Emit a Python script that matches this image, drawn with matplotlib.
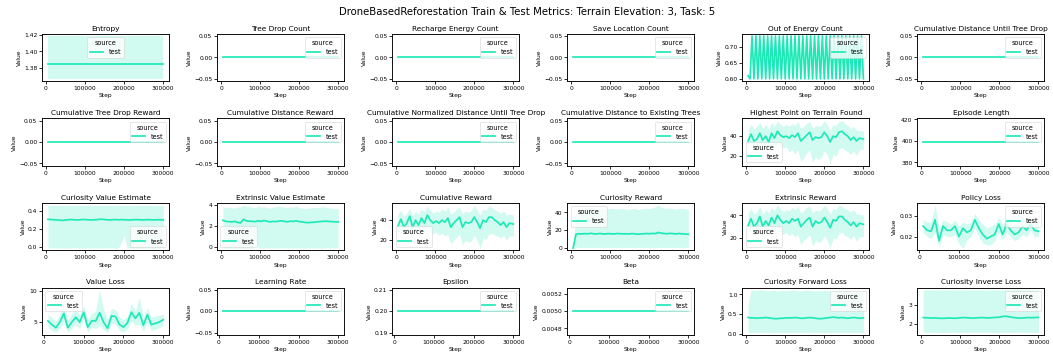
import matplotlib.pyplot as plt
from matplotlib.ticker import MaxNLocator

# figure is drawn at a large size, then saved at low dpi
DPI = 41
COLOR = '#1de9b6'

plt.rcParams['xtick.labelsize'] = 10.5
plt.rcParams['ytick.labelsize'] = 10.5
plt.rcParams['axes.labelsize'] = 10.5
plt.rcParams['axes.linewidth'] = 1.6
plt.rcParams['xtick.major.width'] = 1.4
plt.rcParams['ytick.major.width'] = 1.4
plt.rcParams['xtick.major.size'] = 5
plt.rcParams['ytick.major.size'] = 5
plt.rcParams['legend.fontsize'] = 11.5
plt.rcParams['legend.title_fontsize'] = 11.5

suptitle = 'DroneBasedReforestation Train & Test Metrics: Terrain Elevation: 3, Task: 5'

# ---------------- steps ----------------
steps = [5000, 12500, 20000, 27500, 35000, 42500, 50000, 57500, 65000, 72500,
         80000, 87500, 95000, 102500, 110000, 117500, 125000, 132500, 140000, 147500,
         155000, 162500, 170000, 177500, 185000, 192500, 200000, 207500, 215000, 222500,
         230000, 237500, 245000, 252500, 260000, 267500, 275000, 282500, 290000, 300000]
loss_steps = [10000, 20000, 30000, 40000, 50000, 60000, 70000, 80000, 90000, 100000,
              110000, 120000, 130000, 140000, 150000, 160000, 170000, 180000, 190000, 200000,
              210000, 220000, 230000, 240000, 250000, 260000, 270000, 280000, 290000, 300000]
energy_steps = [5000, 10000, 15000, 20000, 25000, 30000, 35000, 40000, 45000, 50000,
                55000, 60000, 65000, 70000, 75000, 80000, 85000, 90000, 95000, 100000,
                105000, 110000, 115000, 120000, 125000, 130000, 135000, 140000, 145000, 150000,
                155000, 160000, 165000, 170000, 175000, 180000, 185000, 190000, 195000, 200000,
                205000, 210000, 215000, 220000, 225000, 230000, 235000, 240000, 245000, 250000,
                255000, 260000, 265000, 270000, 275000, 280000, 285000, 290000, 295000, 300000]

# ---------------- constant metrics ----------------
entropy_value = 1.3845
entropy_lo = 1.3667
entropy_hi = 1.4188
tree_drop_count = 0.0
recharge_energy_count = 0.0
save_location_count = 0.0
cum_dist_until_drop = 0.0
cum_tree_drop_reward = 0.0
cum_distance_reward = 0.0
cum_norm_dist_until_drop = 0.0
cum_dist_existing_trees = 0.0
episode_length = 399.0
learning_rate = 0.0
epsilon = 0.2
beta = 0.005

# ---------------- varying metrics ----------------
out_of_energy = [0.610, 0.600, 0.733, 0.600, 0.733, 0.600, 0.733, 0.600, 0.733, 0.600,
                 0.733, 0.600, 0.733, 0.600, 0.733, 0.600, 0.733, 0.600, 0.733, 0.600,
                 0.733, 0.600, 0.733, 0.600, 0.733, 0.600, 0.733, 0.600, 0.733, 0.600,
                 0.733, 0.600, 0.733, 0.600, 0.733, 0.600, 0.733, 0.600, 0.733, 0.600,
                 0.733, 0.600, 0.733, 0.600, 0.733, 0.600, 0.733, 0.600, 0.733, 0.600,
                 0.733, 0.600, 0.733, 0.600, 0.733, 0.600, 0.733, 0.600, 0.733, 0.600]

highest_mean = [35, 42, 35, 37, 43, 36, 40, 34, 43, 38, 45, 41, 39, 40, 38, 41, 39, 43, 35, 38,
                41, 44, 36, 39, 38, 39, 44, 40, 34, 40, 39, 44, 45, 42, 40, 36, 39, 35, 38, 37]
highest_hi = [47, 52, 47, 50, 54, 48, 52, 47, 54, 50, 56, 52, 50, 52, 50, 53, 51, 55, 48, 50,
              53, 55, 48, 51, 50, 51, 56, 52, 46, 52, 51, 55, 56, 53, 51, 48, 50, 46, 46, 45]
highest_lo = [26, 32, 25, 27, 32, 25, 29, 23, 31, 27, 34, 30, 28, 29, 24, 26, 22, 26, 14, 18,
              23, 26, 13, 19, 16, 18, 25, 21, 12, 22, 20, 27, 28, 26, 24, 21, 25, 20, 26, 27]

cumrew_mean = [34, 41, 33, 37, 44, 33, 40, 35, 42, 37, 45, 40, 37, 39, 37, 40, 38, 42, 33, 37,
               40, 43, 33, 38, 37, 38, 43, 38, 32, 40, 38, 43, 43, 40, 38, 35, 38, 33, 37, 36]
cumrew_hi = [46, 50, 44, 47, 52, 44, 49, 46, 51, 48, 54, 50, 47, 49, 48, 51, 49, 53, 46, 48,
             51, 53, 46, 49, 48, 49, 55, 50, 45, 51, 50, 54, 53, 50, 49, 47, 49, 45, 46, 45]
cumrew_lo = [26, 31, 24, 27, 33, 24, 30, 26, 31, 27, 33, 29, 26, 28, 25, 27, 24, 26, 16, 20,
             23, 26, 15, 20, 18, 19, 25, 20, 12, 22, 21, 26, 27, 25, 24, 22, 25, 20, 24, 24]

extrew_mean = [31, 37, 30, 33, 39, 30, 35, 31, 38, 33, 40, 36, 33, 35, 33, 37, 35, 37, 30, 33,
               36, 38, 30, 35, 33, 34, 38, 34, 29, 36, 35, 39, 39, 36, 34, 31, 34, 30, 33, 32]
extrew_hi = [42, 46, 41, 43, 48, 41, 45, 42, 47, 44, 49, 46, 43, 45, 44, 47, 45, 48, 42, 44,
             47, 48, 42, 45, 44, 45, 49, 46, 41, 46, 45, 49, 48, 46, 45, 43, 45, 41, 41, 40]
extrew_lo = [23, 28, 21, 24, 30, 21, 27, 23, 28, 24, 30, 26, 23, 25, 22, 24, 21, 23, 14, 18,
             20, 23, 13, 18, 16, 17, 22, 18, 11, 20, 19, 24, 25, 22, 21, 19, 22, 17, 21, 21]

cur_value_mean = [0.305, 0.302, 0.300, 0.298, 0.296, 0.292, 0.297, 0.300, 0.302, 0.299,
                  0.297, 0.300, 0.303, 0.301, 0.299, 0.298, 0.300, 0.302, 0.306, 0.303,
                  0.300, 0.297, 0.300, 0.302, 0.299, 0.301, 0.300, 0.298, 0.297, 0.300,
                  0.302, 0.300, 0.298, 0.299, 0.301, 0.300, 0.298, 0.299, 0.300, 0.299]
cur_value_hi = [0.462, 0.460, 0.461, 0.459, 0.458, 0.460, 0.462, 0.461, 0.459, 0.460,
                0.461, 0.460, 0.458, 0.459, 0.461, 0.462, 0.460, 0.459, 0.460, 0.461,
                0.460, 0.458, 0.459, 0.460, 0.461, 0.460, 0.459, 0.458, 0.460, 0.461,
                0.460, 0.459, 0.458, 0.460, 0.461, 0.459, 0.458, 0.457, 0.458, 0.457]
cur_value_lo = [-0.012, -0.014, -0.013, -0.015, -0.014, -0.013, -0.012, -0.014, -0.015, -0.013,
                -0.012, -0.014, -0.013, -0.015, -0.014, -0.013, -0.012, -0.014, -0.015, -0.013,
                -0.012, -0.014, -0.013, -0.015, -0.014, 0.040, 0.125, -0.010, -0.013, -0.014,
                -0.012, -0.013, -0.015, -0.014, -0.013, -0.012, -0.014, -0.013, -0.012, -0.013]

ext_value_mean = [2.50, 2.40, 2.38, 2.35, 2.40, 2.30, 2.25, 2.60, 2.45, 2.42,
                  2.40, 2.38, 2.45, 2.40, 2.48, 2.42, 2.35, 2.40, 2.38, 2.42,
                  2.45, 2.40, 2.36, 2.42, 2.40, 2.45, 2.38, 2.35, 2.30, 2.28,
                  2.30, 2.32, 2.35, 2.38, 2.40, 2.42, 2.40, 2.38, 2.36, 2.35]
ext_value_hi = [3.80, 3.70, 3.75, 3.70, 3.65, 3.75, 3.80, 3.95, 3.85, 3.80,
                3.75, 3.70, 3.85, 3.75, 3.80, 3.70, 3.65, 3.75, 3.80, 3.85,
                3.80, 3.75, 3.70, 3.80, 3.75, 3.85, 3.70, 3.65, 3.60, 3.65,
                3.70, 3.75, 3.70, 3.75, 3.80, 3.75, 3.70, 3.65, 3.60, 3.60]
ext_value_lo = [-0.12, -0.14, -0.13, -0.15, -0.14, -0.13, -0.12, -0.14, -0.15, -0.13,
                -0.12, 0.75, -0.10, -0.15, -0.14, -0.13, -0.12, -0.14, -0.15, -0.13,
                -0.12, -0.14, -0.13, -0.15, -0.14, -0.13, -0.12, -0.14, -0.15, -0.13,
                -0.12, -0.14, -0.13, -0.15, -0.14, -0.13, -0.12, -0.14, -0.13, -0.12]

cur_reward_mean = [0.0, 15.5, 16.0, 15.8, 16.2, 15.9, 16.5, 16.0, 15.8, 16.3,
                   16.0, 15.7, 16.2, 16.0, 15.8, 16.3, 16.1, 15.9, 16.0, 15.7,
                   16.2, 16.0, 15.5, 15.8, 16.0, 16.3, 16.0, 16.4, 16.2, 17.5,
                   16.8, 16.3, 16.0, 16.5, 16.2, 15.9, 16.3, 16.0, 15.8, 15.5]
cur_reward_hi = [0.0, 43.0, 44.0, 43.5, 44.0, 44.5, 44.0, 43.5, 44.0, 44.5,
                 44.0, 43.0, 44.0, 44.5, 44.0, 43.5, 44.0, 44.0, 43.5, 43.0,
                 44.0, 44.5, 43.0, 43.5, 44.0, 44.5, 44.0, 45.0, 46.0, 48.0,
                 46.0, 45.0, 44.5, 45.0, 44.0, 43.5, 44.0, 44.5, 44.0, 43.0]
cur_reward_lo = [0.0, 0.8, 0.8, 0.8, 0.8, 0.8, 0.8, 0.8, 0.8, 0.8,
                 0.8, 0.8, 0.8, 0.8, 0.8, 0.8, 0.8, 0.8, 0.8, 0.8,
                 0.8, 0.8, 0.8, 0.8, 0.8, 0.8, 0.8, 0.8, 0.8, 0.8,
                 0.8, 0.8, 0.8, 0.8, 0.8, 0.8, 0.8, 0.8, 0.8, 0.8]

policy_mean = [0.025, 0.023, 0.0225, 0.028, 0.018, 0.025, 0.023, 0.023, 0.025, 0.020,
               0.024, 0.022, 0.023, 0.028, 0.024, 0.021, 0.019, 0.020, 0.021, 0.026,
               0.021, 0.026, 0.023, 0.021, 0.022, 0.025, 0.023, 0.026, 0.023, 0.0225]
policy_hi = [0.028, 0.027, 0.027, 0.035, 0.024, 0.028, 0.027, 0.026, 0.028, 0.025,
             0.027, 0.026, 0.027, 0.031, 0.028, 0.026, 0.024, 0.025, 0.026, 0.029,
             0.026, 0.029, 0.027, 0.025, 0.026, 0.029, 0.027, 0.029, 0.027, 0.026]
policy_lo = [0.022, 0.020, 0.019, 0.022, 0.015, 0.021, 0.020, 0.020, 0.021, 0.0165,
             0.0145, 0.0185, 0.020, 0.024, 0.020, 0.017, 0.016, 0.016, 0.018, 0.022,
             0.018, 0.022, 0.020, 0.018, 0.019, 0.021, 0.020, 0.023, 0.020, 0.020]

value_loss_mean = [5.2, 4.6, 4.1, 5.0, 6.4, 4.1, 5.0, 5.8, 5.0, 6.6,
                   4.2, 5.2, 5.2, 6.5, 5.0, 4.0, 6.0, 5.9, 4.6, 4.2,
                   4.9, 6.6, 5.6, 6.5, 4.5, 6.2, 4.6, 4.8, 5.0, 5.4]
value_loss_hi = [6.3, 5.7, 5.2, 6.3, 7.5, 5.3, 6.3, 7.0, 6.2, 7.6,
                 5.4, 6.4, 6.8, 10.2, 7.0, 5.5, 7.2, 7.0, 5.8, 5.4,
                 6.0, 8.0, 6.8, 9.0, 5.8, 7.3, 5.8, 6.0, 6.1, 6.3]
value_loss_lo = [4.2, 3.7, 3.4, 4.0, 5.2, 3.4, 4.0, 4.6, 4.0, 5.5,
                 3.4, 4.2, 4.0, 4.5, 3.8, 3.3, 4.8, 4.7, 3.6, 3.4,
                 3.9, 5.2, 4.5, 4.6, 3.6, 5.0, 3.7, 3.9, 4.1, 4.5]

fwd_loss_mean = [0.41, 0.40, 0.40, 0.39, 0.40, 0.40, 0.41, 0.40, 0.39, 0.38,
                 0.38, 0.39, 0.39, 0.40, 0.40, 0.40, 0.41, 0.40, 0.39, 0.39,
                 0.40, 0.41, 0.40, 0.39, 0.38, 0.38, 0.39, 0.40, 0.41, 0.42,
                 0.41, 0.40, 0.41, 0.40, 0.39, 0.40, 0.41, 0.40, 0.39, 0.40]
fwd_loss_hi = [0.75, 1.12, 1.11, 1.10, 1.12, 1.11, 1.10, 1.09, 1.10, 1.11,
               1.08, 1.10, 1.11, 1.09, 1.10, 1.12, 1.11, 1.10, 1.09, 1.10,
               1.11, 1.10, 1.09, 1.08, 1.10, 1.09, 1.11, 1.10, 1.09, 1.08,
               1.10, 1.09, 1.08, 1.09, 1.10, 1.09, 1.08, 1.09, 1.08, 1.07]
fwd_loss_lo = [0.03, 0.02, 0.02, 0.03, 0.02, 0.02, 0.03, 0.02, 0.02, 0.02,
               0.03, 0.02, 0.02, 0.03, 0.02, 0.02, 0.02, 0.03, 0.02, 0.02,
               0.03, 0.02, 0.02, 0.02, 0.03, 0.02, 0.02, 0.03, 0.02, 0.02,
               0.02, 0.03, 0.02, 0.02, 0.03, 0.02, 0.02, 0.02, 0.03, 0.02]

inv_loss_mean = [2.33, 2.32, 2.31, 2.30, 2.31, 2.30, 2.29, 2.29, 2.30, 2.31,
                 2.30, 2.29, 2.31, 2.32, 2.33, 2.32, 2.31, 2.30, 2.31, 2.32,
                 2.33, 2.32, 2.31, 2.32, 2.33, 2.34, 2.35, 2.38, 2.40, 2.38,
                 2.35, 2.33, 2.31, 2.30, 2.31, 2.32, 2.33, 2.32, 2.33, 2.34]
inv_loss_hi = [3.75, 3.76, 3.74, 3.75, 3.76, 3.75, 3.74, 3.75, 3.76, 3.75,
               3.74, 3.75, 3.76, 3.75, 3.74, 3.75, 3.76, 3.75, 3.74, 3.75,
               3.76, 3.75, 3.74, 3.75, 3.76, 3.75, 3.74, 3.75, 3.76, 3.75,
               3.74, 3.75, 3.76, 3.75, 3.74, 3.75, 3.76, 3.75, 3.74, 3.75]
inv_loss_lo = [1.58, 1.57, 1.56, 1.57, 1.58, 1.57, 1.56, 1.55, 1.56, 1.57,
               1.58, 1.57, 1.56, 1.57, 1.58, 1.57, 1.56, 1.57, 1.58, 1.57,
               1.56, 1.57, 1.58, 1.57, 1.56, 1.55, 1.56, 1.57, 1.58, 1.57,
               1.56, 1.57, 1.58, 1.57, 1.56, 1.57, 1.58, 1.57, 1.56, 1.57]


def const(v, xs):
    return [v] * len(xs)


# (title, x, mean, lower, upper, legend location)
panels = [
    ('Entropy', steps, const(entropy_value, steps), const(entropy_lo, steps), const(entropy_hi, steps), 'upper center'),
    ('Tree Drop Count', steps, const(tree_drop_count, steps), None, None, 'upper right'),
    ('Recharge Energy Count', steps, const(recharge_energy_count, steps), None, None, 'upper right'),
    ('Save Location Count', steps, const(save_location_count, steps), None, None, 'upper right'),
    ('Out of Energy Count', energy_steps, out_of_energy, None, None, 'upper right'),
    ('Cumulative Distance Until Tree Drop', steps, const(cum_dist_until_drop, steps), None, None, 'upper right'),
    ('Cumulative Tree Drop Reward', steps, const(cum_tree_drop_reward, steps), None, None, 'upper right'),
    ('Cumulative Distance Reward', steps, const(cum_distance_reward, steps), None, None, 'upper right'),
    ('Cumulative Normalized Distance Until Tree Drop', steps, const(cum_norm_dist_until_drop, steps), None, None, 'upper right'),
    ('Cumulative Distance to Existing Trees', steps, const(cum_dist_existing_trees, steps), None, None, 'upper right'),
    ('Highest Point on Terrain Found', steps, highest_mean, highest_lo, highest_hi, 'lower left'),
    ('Episode Length', steps, const(episode_length, steps), None, None, 'upper right'),
    ('Curiosity Value Estimate', steps, cur_value_mean, cur_value_lo, cur_value_hi, 'lower right'),
    ('Extrinsic Value Estimate', steps, ext_value_mean, ext_value_lo, ext_value_hi, 'lower left'),
    ('Cumulative Reward', steps, cumrew_mean, cumrew_lo, cumrew_hi, 'lower left'),
    ('Curiosity Reward', steps, cur_reward_mean, cur_reward_lo, cur_reward_hi, 'upper left'),
    ('Extrinsic Reward', steps, extrew_mean, extrew_lo, extrew_hi, 'lower left'),
    ('Policy Loss', loss_steps, policy_mean, policy_lo, policy_hi, 'upper right'),
    ('Value Loss', loss_steps, value_loss_mean, value_loss_lo, value_loss_hi, 'upper left'),
    ('Learning Rate', loss_steps, const(learning_rate, loss_steps), None, None, 'upper right'),
    ('Epsilon', loss_steps, const(epsilon, loss_steps), None, None, 'upper right'),
    ('Beta', loss_steps, const(beta, loss_steps), None, None, 'upper right'),
    ('Curiosity Forward Loss', steps, fwd_loss_mean, fwd_loss_lo, fwd_loss_hi, 'upper right'),
    ('Curiosity Inverse Loss', steps, inv_loss_mean, inv_loss_lo, inv_loss_hi, 'upper right'),
]

fig, axes = plt.subplots(4, 6, figsize=(25.7, 8.64))
fig.subplots_adjust(left=0.040, right=0.991, top=0.904, bottom=0.054,
                    wspace=0.38, hspace=0.79)

for ax, (title, xs, mean, lo, hi, loc) in zip(axes.flat, panels):
    ax.plot(xs, mean, color=COLOR, lw=3.0, label='test')
    if lo is not None:
        ax.fill_between(xs, lo, hi, color=COLOR, alpha=0.2, lw=0)
    ax.set_title(title, fontsize=13)
    ax.set_xlabel('Step')
    ax.set_ylabel('Value')
    ax.set_xticks([0, 100000, 200000, 300000])
    ax.yaxis.set_major_locator(MaxNLocator(nbins=3, steps=[1, 2, 2.5, 5, 10]))
    ax.legend(title='source', loc=loc)

fig.suptitle(suptitle, fontsize=17.8)
fig.savefig('out.png', dpi=DPI)
